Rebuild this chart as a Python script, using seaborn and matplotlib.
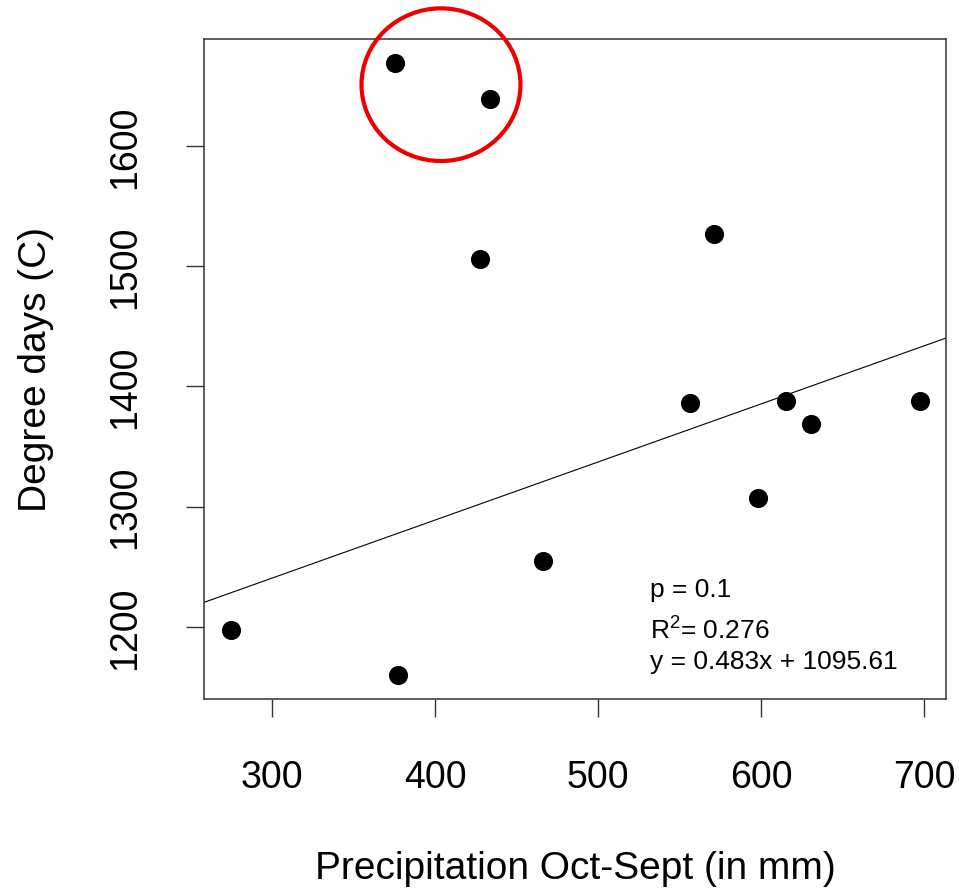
import numpy as np
import pandas as pd
import seaborn as sns
import matplotlib.pyplot as plt
from matplotlib.patches import Ellipse

# values
precip = [274.8, 377.3, 375.5, 433.7, 427.6, 466.3, 571.2, 556.4, 598.2, 615.3, 630.7, 697.5]
degree_days = [1197.5, 1160, 1669, 1639, 1506, 1255, 1527, 1386, 1307.5, 1387.5, 1369, 1388]
slope = 0.483
intercept = 1095.61
x_ticks = [300, 400, 500, 600, 700]
y_ticks = [1200, 1300, 1400, 1500, 1600]
stats_text = ["p = 0.1", r"R$^{2}$= 0.276", "y = 0.483x + 1095.61"]

sns.set_style("white")
plt.rcParams['font.family'] = ['Liberation Sans', 'DejaVu Sans']
plt.rcParams['mathtext.fontset'] = 'custom'
plt.rcParams['mathtext.rm'] = 'Liberation Sans'
plt.rcParams['mathtext.it'] = 'Liberation Sans'
plt.rcParams['text.color'] = 'black'
plt.rcParams['axes.labelcolor'] = 'black'
plt.rcParams['xtick.color'] = 'black'
plt.rcParams['ytick.color'] = 'black'

df = pd.DataFrame({'precip': precip, 'dd': degree_days})

fig = plt.figure(figsize=(9.59, 8.95), dpi=100)
ax = fig.add_axes([0.2127, 0.2179, 0.7737, 0.7374])

xlim = (258.3, 713.5)
ylim = (1140, 1689)

# regression line (abline across full width)
line_x = np.array(xlim)
line_df = pd.DataFrame({'x': line_x, 'y': slope * line_x + intercept})
sns.lineplot(data=line_df, x='x', y='y', color='black', linewidth=0.8, ax=ax)

sns.scatterplot(data=df, x='precip', y='dd', color='black', s=190,
                marker='o', edgecolor='black', linewidth=0, ax=ax, zorder=3)

ax.set_xlim(*xlim)
ax.set_ylim(*ylim)
ax.set_xticks(x_ticks)
ax.set_yticks(y_ticks)
ax.set_xticklabels([str(t) for t in x_ticks])
ax.set_yticklabels([str(t) for t in y_ticks])

ax.tick_params(axis='both', direction='out', length=13, width=1, color='#333333',
               labelsize=27, bottom=True, left=True)
ax.tick_params(axis='x', pad=30)
ax.tick_params(axis='y', pad=31)
for lab in ax.get_yticklabels():
    lab.set_rotation(90)
    lab.set_va('center')

for sp in ax.spines.values():
    sp.set_visible(True)
    sp.set_color('#333333')
    sp.set_linewidth(1.1)

ax.set_xlabel("Precipitation Oct-Sept (in mm)", fontsize=28, labelpad=40)
ax.set_ylabel("Degree days (C)", fontsize=28, labelpad=38)

# stats annotation
ax.text(532, 1231.5, stats_text[0], fontsize=19, va='center', ha='left')
ax.text(532, 1197, stats_text[1], fontsize=19, va='center', ha='left')
ax.text(532, 1172, stats_text[2], fontsize=19, va='center', ha='left')

# red circle around the two top points
circ = Ellipse((403.7, 1651), width=97.5, height=127, fill=False,
               edgecolor='#ee0000', linewidth=3, clip_on=False, zorder=4)
ax.add_patch(circ)

fig.savefig('out.png', dpi=100)
